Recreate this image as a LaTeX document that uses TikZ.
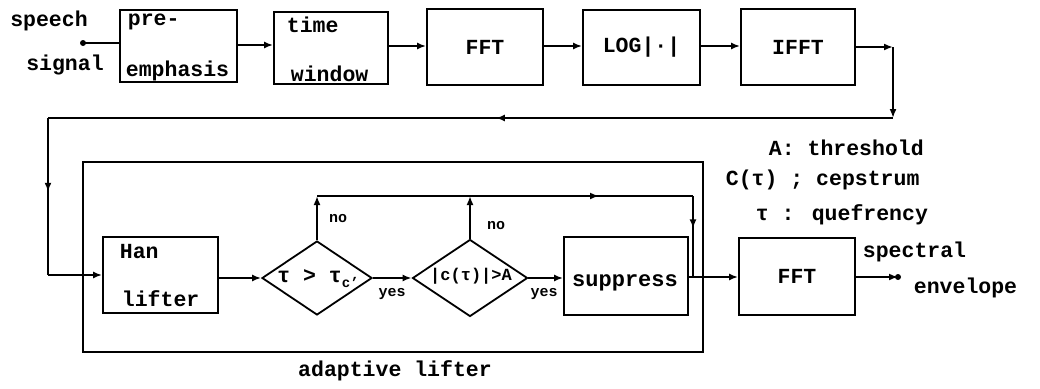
\documentclass[tikz,border=0pt]{standalone}
\usepackage{fontspec}
\setmainfont{Liberation Mono}
\usetikzlibrary{arrows.meta,shapes.geometric,decorations.markings}
\begin{document}
\begin{tikzpicture}[x=1pt,y=-1pt,
  line width=1.8pt,
  font=\bfseries\fontsize{21.5}{23}\selectfont,
  arr/.style={-{Latex[length=9pt,width=7pt]}},
  midarr/.style={postaction={decorate},decoration={markings,mark=at position #1 with {\arrow{Latex[length=9pt,width=7pt]}}}},
  blk/.style={draw,rectangle,inner sep=0pt},
  dia/.style={draw,diamond,inner sep=0pt},
  lbl/.style={inner sep=0pt},
  small/.style={inner sep=0pt,font=\bfseries\fontsize{15}{15}\selectfont}]
\useasboundingbox (0,0) rectangle (1040,388);
% top row
\node[blk,minimum width=117pt,minimum height=72pt] (pre) at (178.5,46) {};
\node[blk,minimum width=114pt,minimum height=72pt] (time) at (331,48) {};
\node[blk,minimum width=116pt,minimum height=76pt] (fft1) at (485,47) {FFT};
\node[blk,minimum width=117pt,minimum height=75pt] (log) at (641.5,47.5) {LOG|·|};
\node[blk,minimum width=114pt,minimum height=76pt] (ifft) at (798,47) {IFFT};
\node[lbl,anchor=west] (pret) at (127,22) {pre-};
\node[lbl,anchor=west] (preb) at (125,71) {emphasis};
\node[lbl,anchor=west] (timet) at (286,25) {time};
\node[lbl,anchor=west] (timeb) at (290,74) {window};
\node[lbl] (sp) at (49,21) {speech};
\node[lbl] (sg) at (65,65) {signal};
\coordinate (in) at (83,43);
\fill (in) circle (3pt);
\draw (in) -- (in -| pre.west);
\draw[arr] (pre.east |- 0,45) -- (time.west |- 0,45);
\draw[arr] (time.east |- 0,46) -- (fft1.west |- 0,46);
\draw[arr] (fft1.east |- 0,46) -- (log.west |- 0,46);
\draw[arr] (log.east |- 0,46) -- (ifft.west |- 0,46);
% feedback
\coordinate (c1) at (893,47);
\coordinate (c2) at (893,118);
\coordinate (c3) at (48,118);
\coordinate (c4) at (48,275);
\draw[arr] (ifft.east |- c1) -- (c1);
\draw[arr] (c1) -- (c2);
\draw[midarr=0.47] (c2) -- (c3);
\draw[midarr=0.47] (c3) -- (c4);
% adaptive lifter
\node[draw,rectangle,minimum width=620pt,minimum height=190pt,inner sep=0pt] (al) at (393,257) {};
\node[lbl] (alt) at (395,371) {adaptive lifter};
\node[blk,minimum width=115pt,minimum height=76pt] (han) at (160.5,275) {};
\node[lbl,anchor=west] (hant) at (119,252) {Han};
\node[lbl,anchor=west] (hanb) at (121,299) {lifter};
\draw[arr] (c4) -- (han.west |- c4);
\node[dia,minimum width=110pt,minimum height=74pt] (d1) at (317,278) {};
\node[lbl] (d1t) at (318,279) {τ > τ\raisebox{-5pt}{\fontsize{14}{14}\selectfont c'}};
\node[dia,minimum width=115pt,minimum height=77pt] (d2) at (470,278) {};
\node[lbl,font=\bfseries\fontsize{17}{17}\selectfont] (d2t) at (471,276) {|c(τ)|>A};
\node[blk,minimum width=124pt,minimum height=78pt] (sup) at (626,276) {};
\node[lbl,font=\bfseries\fontsize{22}{22}\selectfont] (supt) at (625,283) {suppress};
\node[blk,minimum width=116pt,minimum height=77pt] (fft2) at (797,276.5) {FFT};
\draw[arr] (han.east |- d1) -- (d1.west);
\draw[arr] (d1.east) -- (d2.west);
\draw[arr] (d2.east) -- (sup.west |- d2);
\node[small] (y1) at (392,294) {yes};
\node[small] (y2) at (544,294) {yes};
\coordinate (t1) at (313,196);
\coordinate (t2) at (471,196);
\coordinate (t3) at (693,196);
\coordinate (j) at (693,277);
\draw[arr] (d1.north) -- (t1 -| d1.north);
\draw[arr] (d2.north) -- (t2 -| d2.north);
\node[small] (n1) at (338,219) {no};
\node[small] (n2) at (496,226) {no};
\draw[midarr=0.75] (t1 -| d1.north) -- (t3);
\draw[midarr=0.4] (t3) -- (j);
\draw (sup.east |- j) -- (j);
\draw[arr] (j) -- (fft2.west |- j);
% output
\coordinate (out) at (898,277);
\draw[arr] (fft2.east |- out) -- (out);
\fill (out) circle (3pt);
\node[lbl,anchor=west] (spec) at (862,252) {spectral};
\node[lbl,anchor=west] (env) at (913,288) {envelope};
% legend
\node[lbl,anchor=west] (lg1) at (768,148) {A: threshold};
\node[lbl,anchor=west] (lg2) at (725,180) {C(τ) ; cepstrum};
\node[lbl,anchor=west] (lg3) at (755,215) {τ : quefrency};
\end{tikzpicture}
\end{document}
